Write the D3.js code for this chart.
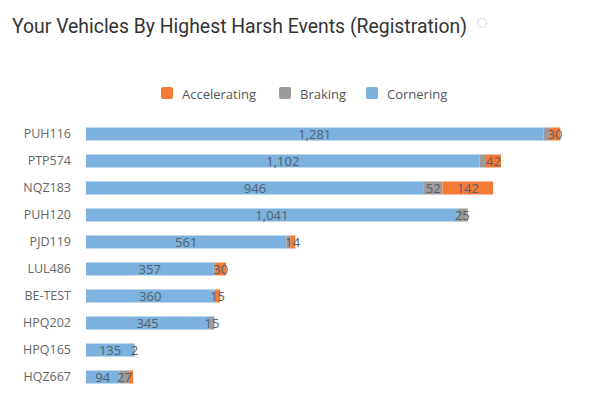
<!DOCTYPE html>
<html><head><meta charset="utf-8">
<script src="https://cdn.jsdelivr.net/npm/d3@7"></script>
<style>
html,body{margin:0;padding:0;background:#fff;}
svg{display:block;}
</style></head>
<body>
<svg id="chart" width="610" height="403"></svg>
<script>
const title = "Your Vehicles By Highest Harsh Events (Registration)";
const categories = ["PUH116","PTP574","NQZ183","PUH120","PJD119","LUL486","BE-TEST","HPQ202","HPQ165","HQZ667"];
const seriesNames = ["Accelerating","Braking","Cornering"];
const cornering =    [1281, 1102, 946, 1041, 561, 357, 360, 345, 135, 94];
const braking =      [17,   18,   52,  25,   11,  5,   1,   15,  2,   27];
const accelerating = [30,   42,   142, 3,    14,  30,  15,  0,   0,   11];
const colors = {Accelerating:"#f47b36", Braking:"#9b9b9b", Cornering:"#7cb2dd"};
const valuesBySeries = {Accelerating:accelerating, Braking:braking, Cornering:cornering};

const svg = d3.select("#chart");

// Title
svg.append("text").attr("x",12).attr("y",33)
  .attr("font-family","Roboto").attr("font-size",20.5).attr("fill","#333")
  .attr("textLength",455).attr("lengthAdjust","spacingAndGlyphs")
  .attr("id","title").text(title);

// spinner icon
const sp = svg.append("g").attr("transform",`translate(${12+455+15},23)`);
sp.append("circle").attr("r",4.5).attr("fill","none").attr("stroke","#ccc")
  .attr("stroke-width",1.2).attr("stroke-dasharray","1.5 1.2");

// Scales
const x = d3.scaleLinear().domain([0,1400]).range([86,586]);
const y = d3.scaleBand().domain(categories).range([120.5,390.5]).paddingInner(0.5185).paddingOuter(0.259);

// Stack order: Cornering (left), Braking, Accelerating (right)
const stackOrder = ["Cornering","Braking","Accelerating"];
const rows = categories.map((c,i)=>{
  let acc=0; const segs=[];
  stackOrder.forEach(s=>{
    const v = valuesBySeries[s][i];
    segs.push({cat:c, series:s, v:v, x0:acc, x1:acc+v});
    acc+=v;
  });
  return segs;
});

const barsG = svg.append("g");
rows.forEach(segs=>{
  barsG.selectAll(null).data(segs.filter(d=>d.v>0)).enter().append("rect")
    .attr("x",d=>x(d.x0)).attr("y",d=>y(d.cat))
    .attr("width",d=>x(d.x1)-x(d.x0)).attr("height",y.bandwidth())
    .attr("fill",d=>colors[d.series]);
});

// Category axis labels
const yAxis = d3.axisLeft(y).tickSize(0).tickPadding(0);
const yg = svg.append("g").attr("transform","translate(71,0)").call(yAxis);
yg.select(".domain").remove();
yg.selectAll("text").attr("font-family","Open Sans").attr("font-size",12.5).attr("fill","#666");

// Data labels with overlap hiding (larger value priority)
const fmt = d3.format(",");
const labG = svg.append("g");
rows.forEach(segs=>{
  const cands = segs.filter(d=>d.v>0).map(d=>{
    const cx = (x(d.x0)+x(d.x1))/2;
    const t = labG.append("text").attr("x",cx).attr("y",y(d.cat)+y.bandwidth()/2)
      .attr("dy","0.36em").attr("text-anchor","middle")
      .attr("font-family","Open Sans").attr("font-size",13).attr("fill","#55606b")
      .text(fmt(d.v));
    const w = t.node().getComputedTextLength();
    return {d, t, l:cx-w/2, r:cx+w/2};
  });
  cands.sort((a,b)=>b.d.v-a.d.v);
  const placed=[];
  cands.forEach(c=>{
    if (placed.some(p=>c.l < p.r+1 && c.r > p.l-1)) c.t.remove();
    else placed.push(c);
  });
});

// Legend
const legendItems = [{name:"Accelerating",x:161},{name:"Braking",x:279},{name:"Cornering",x:366}];
const lg = svg.append("g");
legendItems.forEach(it=>{
  lg.append("rect").attr("x",it.x).attr("y",87).attr("width",12).attr("height",12).attr("rx",2)
    .attr("fill",colors[it.name]);
  lg.append("text").attr("x",it.x+21).attr("y",98.5).attr("font-family","Open Sans")
    .attr("font-size",13).attr("fill","#555").text(it.name);
});
</script>
</body></html>
